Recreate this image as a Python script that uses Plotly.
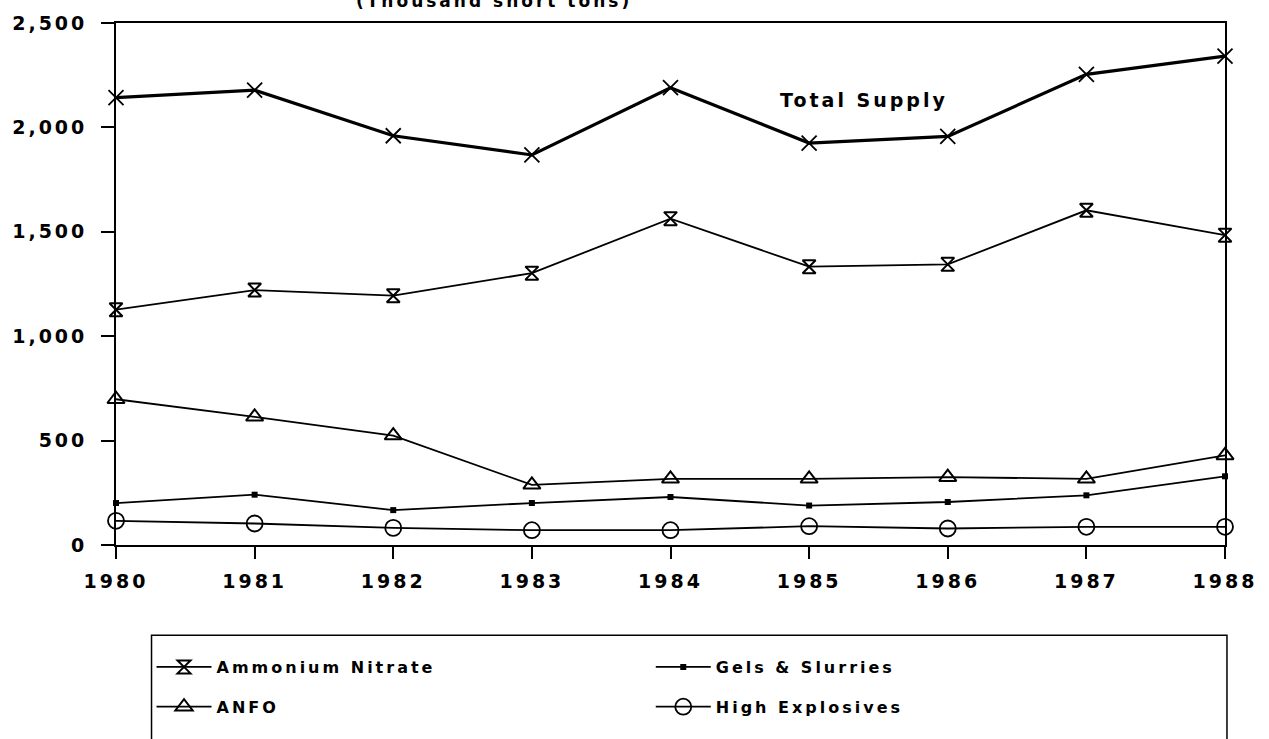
import plotly.graph_objects as go

years = [1980, 1981, 1982, 1983, 1984, 1985, 1986, 1987, 1988]
total_supply = [2143, 2178, 1960, 1868, 2190, 1925, 1957, 2254, 2341]
ammonium_nitrate = [1127, 1221, 1194, 1302, 1563, 1333, 1344, 1603, 1484]
anfo = [698, 614, 524, 288, 317, 317, 325, 317, 429]
gels_slurries = [201, 241, 167, 201, 230, 189, 206, 238, 329]
high_explosives = [116, 103, 82, 71, 71, 90, 79, 87, 87]

y_ticks = [0, 500, 1000, 1500, 2000, 2500]
y_tick_labels = ["0", "500", "1,000", "1,500", "2,000", "2,500"]

FONT = "DejaVu Sans"
SP = "<span style='letter-spacing:3px'>{}</span>"

W, H = 1269, 739
L, R, T, B = 114, 31, 18, 194
PW, PH = W - L - R, H - T - B


def px(x):
    return (x - L) / PW


def py(y):
    return (H - B - y) / PH


fig = go.Figure()

fig.add_trace(go.Scatter(
    x=years, y=total_supply, mode="lines+markers", name="Total Supply",
    line=dict(color="black", width=3.2),
    marker=dict(symbol="x-thin-open", size=15, line=dict(color="black", width=1.8)),
    showlegend=False, cliponaxis=False))

fig.add_trace(go.Scatter(
    x=years, y=ammonium_nitrate, mode="lines+markers",
    name=SP.format("Ammonium Nitrate"),
    line=dict(color="black", width=1.8),
    marker=dict(symbol="hourglass-open", size=13, line=dict(color="black", width=2)),
    legend="legend", legendgroup="an", cliponaxis=False))

fig.add_trace(go.Scatter(
    x=years, y=anfo, mode="lines+markers",
    name=SP.format("ANFO"),
    line=dict(color="black", width=1.8),
    marker=dict(symbol="triangle-up-open", size=15, line=dict(color="black", width=2)),
    legend="legend", legendgroup="anfo", cliponaxis=False))

fig.add_trace(go.Scatter(
    x=years, y=gels_slurries, mode="lines+markers",
    name=SP.format("Gels & Slurries"),
    line=dict(color="black", width=1.8),
    marker=dict(symbol="square", size=6, color="black"),
    legend="legend2", legendgroup="gels", cliponaxis=False))

fig.add_trace(go.Scatter(
    x=years, y=high_explosives, mode="lines+markers",
    name=SP.format("High Explosives"),
    line=dict(color="black", width=1.8),
    marker=dict(symbol="circle-open", size=16, line=dict(color="black", width=1.8)),
    legend="legend2", legendgroup="he", cliponaxis=False))

legend_common = dict(
    orientation="v", yanchor="top", xanchor="left",
    bgcolor="rgba(0,0,0,0)", borderwidth=0,
    font=dict(family=FONT, size=16, color="black", weight="bold"),
    tracegroupgap=16, itemwidth=55,
)

fig.update_layout(
    width=W, height=H,
    margin=dict(l=L, r=R, t=T, b=B, pad=0),
    paper_bgcolor="white", plot_bgcolor="white",
    font=dict(family=FONT, color="black"),
    xaxis=dict(
        range=[1980, 1988], tickmode="array", tickvals=years,
        ticktext=[SP.format(y) for y in years],
        showgrid=False, zeroline=False,
        showline=True, linecolor="black", linewidth=1.8, mirror=True,
        ticks="outside", ticklen=12, tickwidth=1.5, tickcolor="black",
        ticklabelstandoff=6, ticklabeloverflow="allow",
        tickfont=dict(family=FONT, size=19, color="black", weight="bold"),
    ),
    yaxis=dict(
        range=[0, 2500], tickmode="array", tickvals=y_ticks,
        ticktext=[SP.format(t) for t in y_tick_labels],
        showgrid=False, zeroline=False,
        showline=True, linecolor="black", linewidth=1.8, mirror=True,
        ticks="outside", ticklen=13, tickwidth=1.5, tickcolor="black",
        ticklabelstandoff=10,
        tickfont=dict(family=FONT, size=19, color="black", weight="bold"),
    ),
    legend=dict(x=px(150), y=py(651), **legend_common),
    legend2=dict(x=px(656), y=py(651), **legend_common),
    shapes=[dict(type="rect", xref="paper", yref="paper",
                 x0=px(150), x1=px(1240), y0=py(800), y1=py(636),
                 line=dict(color="black", width=1.5))],
    annotations=[
        dict(text=SP.format("Total Supply"), xref="paper", yref="paper",
             x=px(872), y=py(96), xanchor="center", yanchor="middle",
             showarrow=False,
             font=dict(family=FONT, size=19, color="black", weight="bold")),
        dict(text=SP.format("(Thousand short tons)"), xref="paper", yref="paper",
             x=px(497), y=py(-4), xanchor="center", yanchor="middle",
             showarrow=False,
             font=dict(family=FONT, size=17, color="black", weight="bold")),
    ],
)

fig.write_html(
    "out.html",
    config={"displayModeBar": False},
    post_script="document.body.style.margin='0';document.body.style.padding='0';",
)
